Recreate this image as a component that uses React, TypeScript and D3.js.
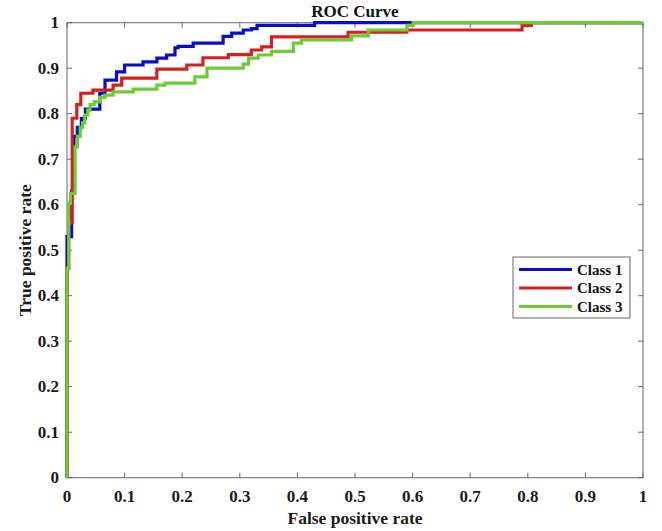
import React from "react";
import * as d3 from "d3";

// ROC curve vertices: each point is the top of a vertical step at that FPR
const class1Fpr = [0, 0, 0.008, 0.012, 0.018, 0.025, 0.032, 0.057, 0.066, 0.086, 0.1, 0.132, 0.156, 0.173, 0.1875, 0.193, 0.219, 0.271, 0.286, 0.306, 0.32, 0.33, 0.43, 1];
const class1Tpr = [0, 0.53, 0.63, 0.75, 0.77, 0.79, 0.81, 0.845, 0.874, 0.892, 0.907, 0.914, 0.922, 0.929, 0.945, 0.948, 0.955, 0.97, 0.977, 0.984, 0.987, 0.994, 1, 1];

const class2Fpr = [0, 0, 0.003, 0.009, 0.017, 0.024, 0.045, 0.08, 0.095, 0.156, 0.208, 0.236, 0.28, 0.32, 0.338, 0.355, 0.488, 0.59, 0.79, 0.806, 1];
const class2Tpr = [0, 0.46, 0.56, 0.79, 0.82, 0.845, 0.852, 0.863, 0.878, 0.898, 0.907, 0.923, 0.93, 0.94, 0.947, 0.969, 0.979, 0.984, 0.994, 1, 1];

const class3Fpr = [0, 0, 0.003, 0.006, 0.014, 0.018, 0.023, 0.027, 0.031, 0.036, 0.04, 0.047, 0.057, 0.066, 0.08, 0.115, 0.156, 0.17, 0.222, 0.243, 0.306, 0.315, 0.332, 0.355, 0.393, 0.407, 0.494, 0.523, 0.59, 0.601, 1];
const class3Tpr = [0, 0.46, 0.603, 0.625, 0.727, 0.75, 0.77, 0.78, 0.797, 0.808, 0.82, 0.826, 0.836, 0.841, 0.848, 0.854, 0.863, 0.867, 0.881, 0.9, 0.909, 0.922, 0.929, 0.937, 0.955, 0.962, 0.971, 0.984, 0.994, 1, 1];

const seriesNames = ["Class 1", "Class 2", "Class 3"];
const seriesColors = ["#0a0ccc", "#d61f1f", "#6ccc32"];
const tickValues = [0, 0.1, 0.2, 0.3, 0.4, 0.5, 0.6, 0.7, 0.8, 0.9, 1];

const W = 662;
const H = 531;
const left = 67;
const right = 643;
const top = 22.7;
const bottom = 477.7;
const FONT = "'Liberation Serif', 'Times New Roman', serif";
const AXIS = "#666";

export default function App() {
  const x = d3.scaleLinear().domain([0, 1]).range([left, right]);
  const y = d3.scaleLinear().domain([0, 1]).range([bottom, top]);

  const line = d3
    .line<[number, number]>()
    .x((d) => x(d[0]))
    .y((d) => y(d[1]))
    .curve(d3.curveStepAfter);

  const series = [
    { fpr: class1Fpr, tpr: class1Tpr },
    { fpr: class2Fpr, tpr: class2Tpr },
    { fpr: class3Fpr, tpr: class3Tpr },
  ];

  const fmt = (v: number) => (v === 0 || v === 1 ? String(v) : d3.format(".1f")(v));
  const tickLen = 5;

  const legendX = 513;
  const legendY = 257;
  const legendW = 117;
  const legendH = 61;
  const rowY = [269.5, 288, 306.5];

  return (
    <div style={{ position: "absolute", left: 0, top: 0 }}>
      <svg width={W} height={H} style={{ display: "block", background: "#fff" }}>
        {/* ticks on all four sides, pointing inward */}
        <g stroke={AXIS} strokeWidth={1}>
          {tickValues.map((t) => (
            <g key={"t" + t}>
              <line x1={x(t)} x2={x(t)} y1={bottom} y2={bottom - tickLen} />
              <line x1={x(t)} x2={x(t)} y1={top} y2={top + tickLen} />
              <line x1={left} x2={left + tickLen} y1={y(t)} y2={y(t)} />
              <line x1={right} x2={right - tickLen} y1={y(t)} y2={y(t)} />
            </g>
          ))}
        </g>
        <rect x={left} y={top} width={right - left} height={bottom - top} fill="none" stroke={AXIS} strokeWidth={1} />

        {/* curves */}
        {series.map((s, i) => {
          const pts = s.fpr.map((f, j) => [f, s.tpr[j]] as [number, number]);
          return (
            <path
              key={seriesNames[i]}
              d={line(pts) || ""}
              fill="none"
              stroke={seriesColors[i]}
              strokeWidth={3.2}
              strokeLinejoin="miter"
            />
          );
        })}

        {/* tick labels */}
        <g fontFamily={FONT} fontWeight="bold" fontSize={17} fill="#1a1a1a">
          {tickValues.map((t) => (
            <text key={"xl" + t} x={x(t)} y={502} textAnchor="middle">
              {fmt(t)}
            </text>
          ))}
          {tickValues.map((t) => (
            <text key={"yl" + t} x={59} y={y(t) + 5.5} textAnchor="end">
              {fmt(t)}
            </text>
          ))}
        </g>

        {/* title and axis labels */}
        <text x={(left + right) / 2} y={17} textAnchor="middle" fontFamily={FONT} fontWeight="bold" fontSize={17} fill="#111">
          ROC Curve
        </text>
        <text x={(left + right) / 2} y={524} textAnchor="middle" fontFamily={FONT} fontWeight="bold" fontSize={17.5} fill="#1a1a1a">
          False positive rate
        </text>
        <text
          transform={`translate(31, ${(top + bottom) / 2}) rotate(-90)`}
          textAnchor="middle"
          fontFamily={FONT}
          fontWeight="bold"
          fontSize={17.5}
          fill="#1a1a1a"
        >
          True positive rate
        </text>

        {/* legend */}
        <rect x={legendX} y={legendY} width={legendW} height={legendH} fill="#fff" stroke={AXIS} strokeWidth={1} />
        {seriesNames.map((n, i) => (
          <g key={"lg" + n}>
            <line x1={519} x2={572} y1={rowY[i]} y2={rowY[i]} stroke={seriesColors[i]} strokeWidth={3.2} />
            <text x={577} y={rowY[i] + 5} fontFamily={FONT} fontWeight="bold" fontSize={15} fill="#111">
              {n}
            </text>
          </g>
        ))}
      </svg>
    </div>
  );
}
